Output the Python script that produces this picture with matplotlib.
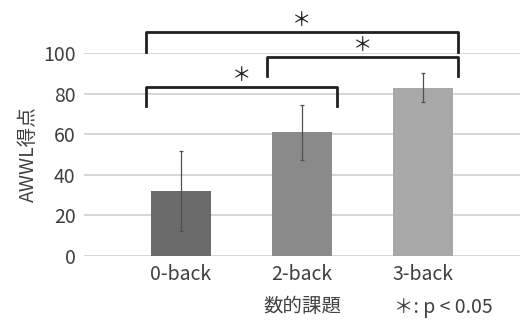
import matplotlib
matplotlib.use('Agg')
import matplotlib.pyplot as plt

plt.rcParams['font.family'] = ['Noto Sans CJK JP', 'DejaVu Sans']

# データ
tasks = ['0-back', '2-back', '3-back']
means = [32, 61, 83]
sds = [19.5, 13.5, 7]
bar_colors = ['#6b6b6b', '#8a8a8a', '#a8a8a8']
yticks = [0, 20, 40, 60, 80, 100]

# 有意差の組み合わせ (左, 右, 横線の高さ, 脚の下端)
pairs = [(0, 2, 110.3, 100.5), (1, 2, 98, 88.7), (0, 1, 83.3, 73.9)]

fig = plt.figure(figsize=(5.2, 3.2), dpi=100)
ax = fig.add_axes([84 / 520, 1 - 256 / 320, 436 / 520, 203 / 320])

x = range(len(tasks))
ax.bar(x, means, width=0.5, color=bar_colors, zorder=2)
ax.errorbar(x, means, yerr=sds, fmt='none', ecolor='#505050',
            elinewidth=0.9, capsize=1.5, capthick=0.9, zorder=3)

ax.set_xlim(-0.8, 2.8)
ax.set_ylim(0, 100)
ax.set_yticks(yticks)
ax.grid(axis='y', color='#d0d0d0', linewidth=1.2, zorder=0)
ax.set_axisbelow(True)
for s in ax.spines.values():
    s.set_visible(False)
ax.tick_params(length=0, labelsize=14, colors='#404040', pad=6)
ax.set_xticks(list(x))
ax.set_xticklabels(tasks)
ax.set_ylabel('AWWL得点', fontsize=14, color='#404040', labelpad=3)

# 有意差ブラケット
ext = 0.29
for a, b, top, leg in pairs:
    xa, xb = a - ext, b + ext
    ax.plot([xa, xa, xb, xb], [leg, top, top, leg], color='#202020',
            linewidth=2, solid_joinstyle='round', clip_on=False, zorder=4)
    ax.text((xa + xb) / 2, top + 0.3, '＊', ha='center', va='bottom',
            fontsize=14, color='#202020', clip_on=False)

fig.text(302 / 520, 1 - 307 / 320, '数的課題', ha='center', va='center',
         fontsize=14, color='#404040')
fig.text(443 / 520, 1 - 307 / 320, '＊: p < 0.05', ha='center', va='center',
         fontsize=14, color='#404040')

fig.savefig('out.png', dpi=100)
